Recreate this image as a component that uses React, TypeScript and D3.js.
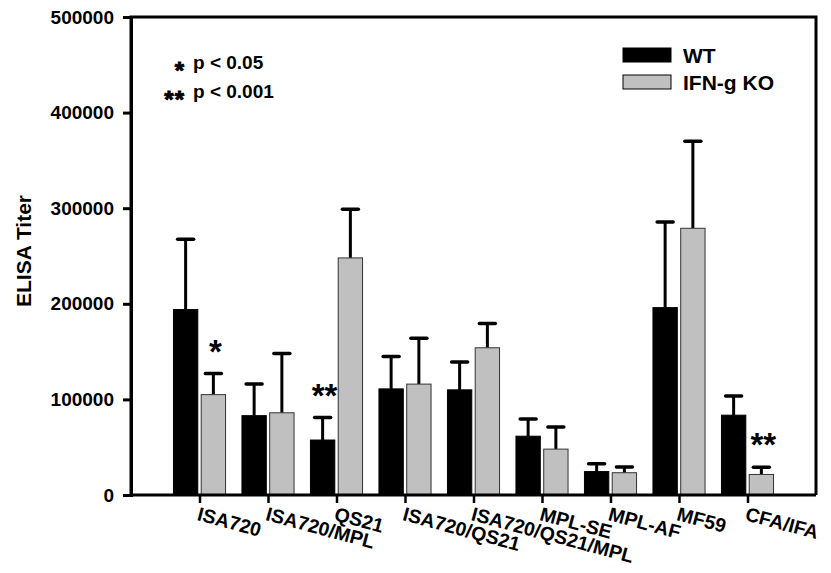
import React, { useRef, useEffect } from 'react';
import * as d3 from 'd3';

const categories = ['ISA720', 'ISA720/MPL', 'QS21', 'ISA720/QS21', 'ISA720/QS21/MPL', 'MPL-SE', 'MPL-AF', 'MF59', 'CFA/IFA'];
const wtMean = [194000, 83000, 57500, 111000, 110000, 61500, 24500, 196000, 83500];
const wtErr = [73500, 33000, 23500, 34000, 29000, 18000, 8300, 89500, 20000];
const koMean = [105000, 86000, 248000, 116000, 154000, 48000, 23300, 279000, 21500];
const koErr = [22000, 62000, 51000, 48000, 25500, 23000, 6000, 91000, 7500];
const wtSig = ['', '', '**', '', '', '', '', '', ''];
const koSig = ['*', '', '', '', '', '', '', '', '**'];
const yTicks = [0, 100000, 200000, 300000, 400000, 500000];
const seriesNames = ['WT', 'IFN-g KO'];
const sigNotes = [['*', 'p < 0.05'], ['**', 'p < 0.001']];

const FONT = '"Liberation Sans", Arial, sans-serif';
const GRAY = '#c0c0c0';

export default function App() {
  const svgRef = useRef<SVGSVGElement>(null);

  useEffect(() => {
    const w = 831;
    const h = 573;
    const left = 131, right = 816, top = 17, bottom = 495;
    const svg = d3.select(svgRef.current).attr('width', w).attr('height', h);
    svg.selectAll('*').remove();

    // scales
    const x = d3.scaleLinear().domain([0, categories.length + 1]).range([left, right]);
    const y = d3.scaleLinear().domain([0, 500000]).range([bottom, top]);
    const step = x(1) - x(0);
    const barW = step * 0.37;
    const gap = 1.2;

    const g = svg.append('g');

    // bars
    const series = [
      { mean: wtMean, err: wtErr, sig: wtSig, fill: '#000', stroke: '#000', off: -gap - barW },
      { mean: koMean, err: koErr, sig: koSig, fill: GRAY, stroke: '#333', off: gap },
    ];

    series.forEach((s) => {
      const cx = (i: number) => x(i + 1) + s.off + barW / 2;
      // error bars (upper only)
      g.selectAll(null)
        .data(s.mean)
        .join('line')
        .attr('x1', (d, i) => cx(i))
        .attr('x2', (d, i) => cx(i))
        .attr('y1', (d) => y(d))
        .attr('y2', (d, i) => y(d + s.err[i]))
        .attr('stroke', '#000')
        .attr('stroke-width', 3);
      g.selectAll(null)
        .data(s.mean)
        .join('line')
        .attr('x1', (d, i) => cx(i) - 8)
        .attr('x2', (d, i) => cx(i) + 8)
        .attr('y1', (d, i) => y(d + s.err[i]))
        .attr('y2', (d, i) => y(d + s.err[i]))
        .attr('stroke', '#000')
        .attr('stroke-width', 3.5)
        .attr('stroke-linecap', 'round');
      g.selectAll(null)
        .data(s.mean)
        .join('rect')
        .attr('x', (d, i) => x(i + 1) + s.off + 0.5)
        .attr('width', barW - 1)
        .attr('y', (d) => y(d))
        .attr('height', (d) => y(0) - y(d))
        .attr('fill', s.fill)
        .attr('stroke', s.stroke)
        .attr('stroke-width', 1);
      // significance markers
      g.selectAll(null)
        .data(s.sig)
        .join('text')
        .attr('x', (d, i) => cx(i) + 2)
        .attr('y', (d, i) => y(s.mean[i] + s.err[i]) - 30 + 19)
        .attr('text-anchor', 'middle')
        .style('font-family', FONT)
        .style('font-weight', 'bold')
        .style('font-size', '33px')
        .text((d) => d);
    });

    // frame
    g.append('path')
      .attr('d', `M${left},${bottom}V${top}H${right}V${bottom}`)
      .attr('fill', 'none')
      .attr('stroke', '#000')
      .attr('stroke-width', 3);

    // y axis
    const yAxis = svg
      .append('g')
      .attr('transform', `translate(${left},0)`)
      .call(d3.axisLeft(y).tickValues(yTicks).tickSize(8).tickPadding(9).tickFormat(d3.format('d')));
    yAxis.select('.domain').attr('stroke-width', 3);
    yAxis.selectAll('.tick line').attr('stroke-width', 3);
    yAxis.selectAll('text').style('font-family', FONT).style('font-weight', 'bold').style('font-size', '19px').attr('fill', '#000');

    // x axis
    const xAxis = svg
      .append('g')
      .attr('transform', `translate(0,${bottom})`)
      .call(d3.axisBottom(x).tickValues(d3.range(1, categories.length + 1)).tickSize(8).tickFormat((d) => categories[+d - 1]));
    xAxis.select('.domain').attr('d', `M${left},0H${right}`).attr('stroke-width', 3);
    xAxis.selectAll('.tick line').attr('stroke-width', 2.5);
    xAxis
      .selectAll('text')
      .attr('x', 0)
      .attr('y', 0)
      .attr('dy', 0)
      .attr('text-anchor', 'start')
      .attr('transform', 'translate(0,11) rotate(15)')
      .attr('dominant-baseline', 'hanging')
      .style('font-family', FONT)
      .style('font-weight', 'bold')
      .style('font-size', '19.5px')
      .attr('fill', '#000');

    // y axis title
    svg
      .append('text')
      .attr('transform', `translate(31,251) rotate(-90)`)
      .attr('text-anchor', 'middle')
      .style('font-family', FONT)
      .style('font-weight', 'bold')
      .style('font-size', '21px')
      .text('ELISA Titer');

    // legend
    const legend = svg.append('g').attr('transform', 'translate(623,48)');
    seriesNames.forEach((name, i) => {
      legend
        .append('rect')
        .attr('x', 0)
        .attr('y', i * 27)
        .attr('width', 48)
        .attr('height', 14)
        .attr('fill', i === 0 ? '#000' : GRAY)
        .attr('stroke', '#000')
        .attr('stroke-width', 1);
      legend
        .append('text')
        .attr('x', 60)
        .attr('y', i * 27 + 15)
        .style('font-family', FONT)
        .style('font-weight', 'bold')
        .style('font-size', '21px')
        .text(name);
    });

    // p-value notes
    sigNotes.forEach(([mark, note], i) => {
      svg
        .append('text')
        .attr('x', 185)
        .attr('y', 65 + i * 29 + 14)
        .attr('text-anchor', 'end')
        .style('font-family', FONT)
        .style('font-weight', 'bold')
        .style('font-size', '24px')
        .attr('stroke', '#000')
        .attr('stroke-width', 0.9)
        .attr('letter-spacing', '1px')
        .text(mark);
      svg
        .append('text')
        .attr('x', 193)
        .attr('y', 69 + i * 29)
        .style('font-family', FONT)
        .style('font-weight', 'bold')
        .style('font-size', '19px')
        .text(note);
    });
  }, []);

  return (
    <div style={{ position: 'absolute', left: 0, top: 0, background: 'white' }}>
      <svg ref={svgRef} style={{ display: 'block' }}></svg>
    </div>
  );
}
